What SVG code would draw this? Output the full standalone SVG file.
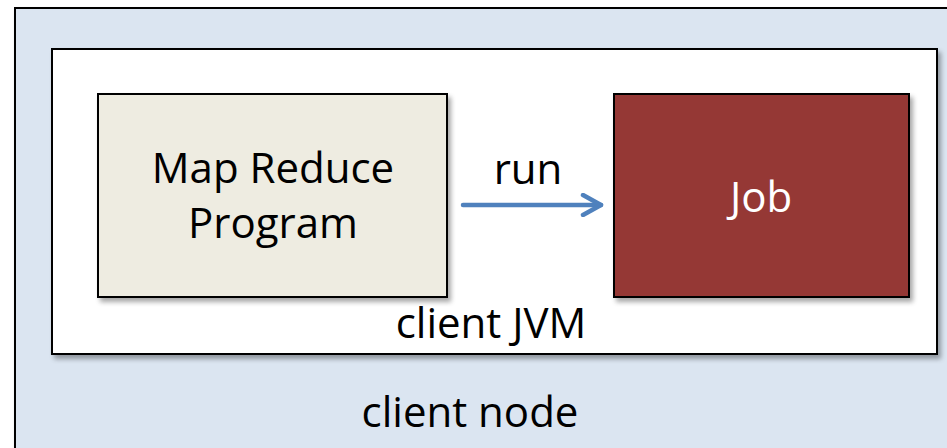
<svg xmlns="http://www.w3.org/2000/svg" width="947" height="448" viewBox="0 0 947 448">
  <defs>
    <filter id="shadow" x="-5%" y="-5%" width="115%" height="120%">
      <feGaussianBlur in="SourceAlpha" stdDeviation="2.5"/>
      <feOffset dx="3" dy="4" result="blur"/>
      <feComponentTransfer><feFuncA type="linear" slope="0.35"/></feComponentTransfer>
      <feMerge><feMergeNode/><feMergeNode in="SourceGraphic"/></feMerge>
    </filter>
    <marker id="chevron" viewBox="0 0 24 24" refX="21" refY="12" markerWidth="24" markerHeight="24" markerUnits="userSpaceOnUse" orient="auto">
      <path d="M 3 2 L 21 12 L 3 22" fill="none" stroke="#4F81BD" stroke-width="4.5" stroke-linecap="round" stroke-linejoin="round"/>
    </marker>
    <style>
      .box { stroke: #000; stroke-width: 2; filter: url(#shadow); }
      .lbl { font-family: "Open Sans", "Liberation Sans", sans-serif; font-size: 42px; text-anchor: middle; fill: #000; }
      .conn { fill: none; stroke: #4F81BD; stroke-width: 4.5; stroke-linecap: round; }
    </style>
  </defs>

  <rect width="947" height="448" fill="#ffffff"/>

  <g id="client-node">
    <rect class="box" x="15" y="8" width="950" height="460" fill="#DBE5F1"/>
    <text class="lbl" x="470" y="427">client node</text>
  </g>

  <g id="client-jvm">
    <rect class="box" x="52" y="49" width="885" height="305" fill="#FFFFFF"/>
    <text class="lbl" x="491" y="338">client JVM</text>
  </g>

  <g id="map-reduce-program">
    <rect class="box" x="98" y="94" width="349" height="203" fill="#EEECE1"/>
    <text class="lbl" x="273" y="183">Map Reduce</text>
    <text class="lbl" x="273" y="238">Program</text>
  </g>

  <g id="job">
    <rect class="box" x="614" y="94" width="295" height="203" fill="#953735"/>
    <text class="lbl" x="761" y="212" style="fill:#FFFFFF">Job</text>
  </g>

  <g id="connectors">
    <line class="conn" x1="463" y1="205" x2="601" y2="205" marker-end="url(#chevron)"/>
    <text class="lbl" x="528" y="184">run</text>
  </g>
</svg>
